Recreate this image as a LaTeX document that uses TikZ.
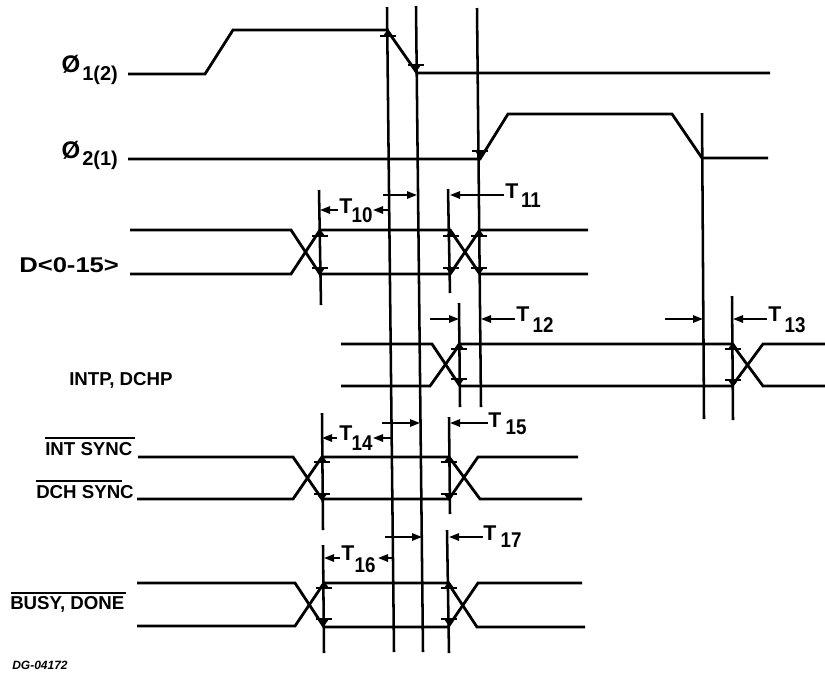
\documentclass[tikz,border=0pt]{standalone}
\usepackage{fontspec}
\setmainfont{Liberation Sans}
\usetikzlibrary{arrows.meta}
\tikzset{
  sig/.style={line width=2.1pt,line join=miter},
  vert/.style={line width=1.9pt},
  dim/.style={line width=1.4pt,-{Triangle[length=7.5pt,width=5.5pt]}},
  bar/.style={line width=1.5pt},
  lab/.style={inner sep=0pt,font=\bfseries\fontsize{14}{14}\selectfont},
  sigt/.style={lab,anchor=center,font=\bfseries\fontsize{16}{16}\selectfont},
  subt/.style={lab,anchor=center,xscale=0.88,font=\bfseries\fontsize{16}{16}\selectfont},
  phi/.style={lab,anchor=center,font=\bfseries\fontsize{18}{18}\selectfont},
  over/.style={line width=1.2pt}
}
\newcommand{\tickdn}[2]{% level below the bar
  \draw[bar] (#1-8,#2-6)--(#1+8,#2-6);
  \fill (#1-5,#2-6)--(#1+5,#2-6)--(#1,#2+1)--cycle;}
\newcommand{\tickup}[2]{% level above the bar
  \draw[bar] (#1-8,#2+6)--(#1+8,#2+6);
  \fill (#1-5,#2+6)--(#1+5,#2+6)--(#1,#2-1)--cycle;}
\begin{document}
\begin{tikzpicture}[x=0.75pt,y=-0.75pt]
\useasboundingbox (0,0) rectangle (825,672);
\fill[white] (0,0) rectangle (825,672);
% clock lines
\draw[sig] (128,74)--(205,74)--(233,30)--(387,30)--(417,73)--(770,73);
\draw[sig] (128,159)--(480,159)--(508,114)--(672,114)--(702,158)--(768,158);
% long verticals
\draw[vert] (387,7)--(394,652);
\draw[vert] (416,6)--(423,652);
\draw[vert] (477,8)--(481,407);
\draw[vert] (319,190)--(321,305);
\draw[vert] (448,189)--(450,293);
\draw[vert] (459,303)--(460,407);
\draw[vert] (702,113)--(704,419);
\draw[vert] (732,296)--(733,420);
\draw[vert] (322,413)--(323,530);
\draw[vert] (449,417)--(450,514);
\draw[vert] (323,545)--(324,653);
\draw[vert] (447,530)--(449,653);
% D<0-15>
\draw[sig] (130,230)--(291,230)--(320,274)--(450,274)--(480,230)--(588,230);
\draw[sig] (130,274)--(291,274)--(320,230)--(450,230)--(480,274)--(588,274);
% INTP, DCHP
\draw[sig] (341,344)--(432,344)--(460,386)--(732,386)--(763,344)--(825,344);
\draw[sig] (341,386)--(430,386)--(460,344)--(732,344)--(763,386)--(825,386);
% INT SYNC / DCH SYNC
\draw[sig] (138,457)--(293,457)--(322,499)--(449,499)--(478,457)--(578,457);
\draw[sig] (137,499)--(293,499)--(322,457)--(449,457)--(480,499)--(582,499);
% BUSY, DONE
\draw[sig] (137,583)--(295,583)--(324,627)--(448,627)--(478,583)--(582,583);
\draw[sig] (137,626)--(295,626)--(324,583)--(448,583)--(477,627)--(585,627);
% level marks
\tickup{388}{30}\tickdn{416}{71}\tickdn{480}{157}
\tickup{320}{230}\tickdn{320}{274}\tickup{451}{230}\tickdn{451}{274}\tickup{479}{230}\tickdn{479}{274}
\tickup{459}{343}\tickdn{459}{385}\tickup{733}{343}\tickdn{733}{386}
\tickup{322}{456}\tickdn{322}{500}\tickup{449}{456}\tickdn{449}{500}
\tickup{324}{582}\tickdn{324}{625}\tickup{449}{582}\tickdn{449}{625}
% dimension arrows
\draw[dim] (338,210)--(320,210);
\draw[dim] (388,210)--(373,210);
\draw[dim] (383,195)--(417,195);
\draw[dim] (504,195)--(450,195);
\draw[dim] (430,319)--(459,319);
\draw[dim] (515,319)--(481,319);
\draw[dim] (665,319)--(703,319);
\draw[dim] (767,319)--(733,319);
\draw[dim] (337,438)--(322,438);
\draw[dim] (392,438)--(373,438);
\draw[dim] (382,423)--(420,423);
\draw[dim] (488,423)--(450,423);
\draw[dim] (340,558)--(324,558);
\draw[dim] (393,558)--(378,558);
\draw[dim] (385,537)--(422,537);
\draw[dim] (483,537)--(449,537);
% timing labels
\node[sigt] (t10) at (346,206) {T}; \node[subt] (s10) at (362,215) {10};
\node[sigt] (t11) at (512,191) {T}; \node[subt] (s11) at (531,200) {11};
\node[sigt] (t12) at (523,314) {T}; \node[subt] (s12) at (543,325) {12};
\node[sigt] (t13) at (775,314) {T}; \node[subt] (s13) at (795,325) {13};
\node[sigt] (t14) at (346,433) {T}; \node[subt] (s14) at (362,443) {14};
\node[sigt] (t15) at (495,420) {T}; \node[subt] (s15) at (516,427) {15};
\node[sigt] (t16) at (348,553) {T}; \node[subt] (s16) at (365,565) {16};
\node[sigt] (t17) at (490,533) {T}; \node[subt] (s17) at (511,540) {17};
% signal labels
\node[phi] (p1) at (71,64) {Ø};
\node[sigt,anchor=west,font=\bfseries\fontsize{15}{15}\selectfont] (p1s) at (82,75) {1(2)};
\node[phi] (p2) at (71,150) {Ø};
\node[sigt,anchor=west,font=\bfseries\fontsize{15}{15}\selectfont] (p2s) at (82,160) {2(1)};
\node[lab,anchor=west,xscale=1.2,font=\bfseries\fontsize{16}{16}\selectfont] (d) at (19,265) {D<0-15>};
\node[lab,anchor=west] (intp) at (69,380) {INTP, DCHP};
\node[lab,anchor=west] (ints) at (45,449) {INT SYNC};
\node[lab,anchor=west] (dchs) at (36,492) {DCH SYNC};
\node[lab,anchor=west] (busy) at (10,604) {BUSY, DONE};
\draw[over] (45,438)--(135,438);
\draw[over] (36,481)--(122,481);
\draw[over] (11,593)--(126,593);
\node[inner sep=0pt,anchor=west,font=\bfseries\itshape\fontsize{9}{9}\selectfont] (dg) at (12,665) {DG-04172};
\end{tikzpicture}
\end{document}
